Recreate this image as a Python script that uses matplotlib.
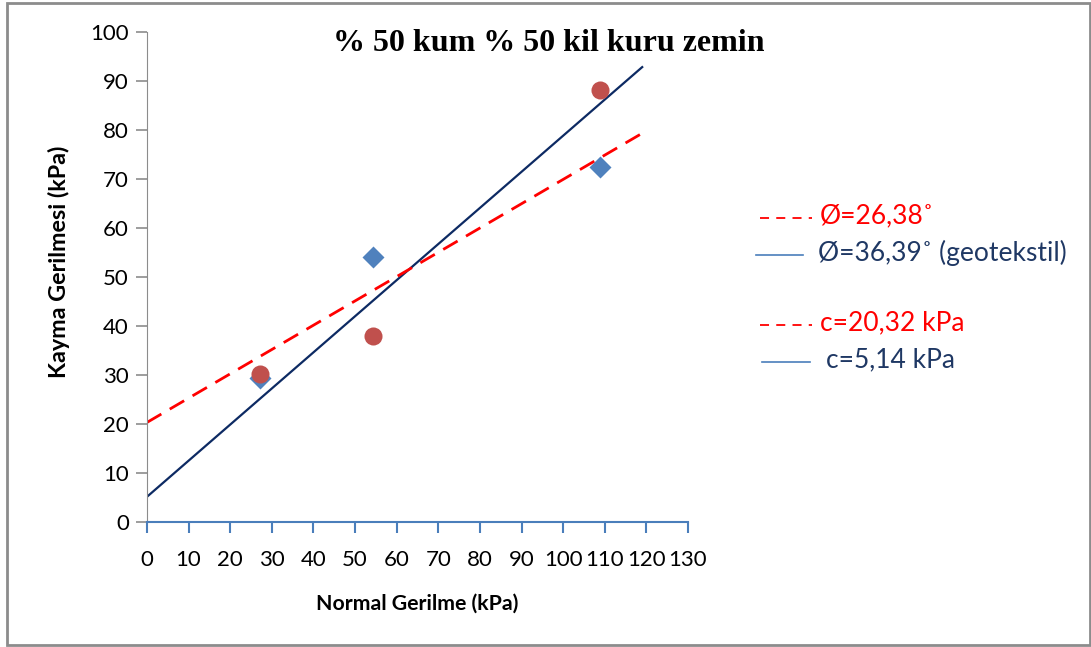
import numpy as np
import matplotlib.pyplot as plt
from matplotlib.patches import Rectangle

# normal stress (kPa)
normal = [27.2, 54.4, 108.8]
# shear stress (kPa)
shear_geo = [29.4, 54.1, 72.4]     # blue diamonds
shear_soil = [30.2, 38.0, 88.2]    # red circles

# fitted strength parameters
phi_soil, c_soil = 26.38, 20.32
phi_geo, c_geo = 36.39, 5.14
x_fit_end = 119.0

legend_texts = ["Ø=26,38˚", "Ø=36,39˚ (geotekstil)", "c=20,32 kPa", "c=5,14 kPa"]

FONT = ["Lato", "DejaVu Sans"]


def main():
    fig = plt.figure(figsize=(10.91, 6.47), dpi=100)
    ax = fig.add_axes([0.1347, 0.1932, 0.4959, 0.7573])

    xf = np.array([0.0, x_fit_end])
    ax.plot(xf, c_geo + np.tan(np.radians(phi_geo)) * xf, "-", color="#0d2a63", lw=1.6, zorder=2)
    ax.plot(xf, c_soil + np.tan(np.radians(phi_soil)) * xf, "--", color="#ff0000", lw=2.0,
            dashes=(6, 3.5), zorder=2)
    ax.plot(normal, shear_geo, "D", color="#4f81bd", ms=11, mec="none", zorder=3)
    ax.plot(normal, shear_soil, "o", color="#c0504d", ms=13, mec="none", zorder=4)

    ax.set_xlim(0, 130)
    ax.set_ylim(0, 100)
    ax.set_xticks(np.arange(0, 131, 10))
    ax.set_yticks(np.arange(0, 101, 10))
    for s in ["top", "right"]:
        ax.spines[s].set_visible(False)
    ax.spines["left"].set_color("#8c8c8c")
    ax.spines["bottom"].set_color("#4a7ebb")
    ax.spines["bottom"].set_linewidth(1.5)
    ax.tick_params(axis="y", direction="out", length=8, color="#8c8c8c", width=1.2, pad=5)
    ax.tick_params(axis="x", direction="out", length=8, color="#4a7ebb", width=1.5, pad=12)
    for lab in ax.get_xticklabels() + ax.get_yticklabels():
        lab.set_family(FONT)
        lab.set_fontsize(16)

    ax.set_xlabel("Normal Gerilme (kPa)", family=FONT, fontsize=15.3, fontweight="bold", labelpad=17)
    ax.set_ylabel("Kayma Gerilmesi (kPa)", family=FONT, fontsize=16.8, fontweight="bold")
    ax.yaxis.set_label_coords(-0.142, 0.531)

    fig.text(0.503, 0.933, "% 50 kum % 50 kil kuru zemin", family="Liberation Serif",
             fontsize=23, fontweight="bold", ha="center", va="center")

    # manual legend on the right
    fig.lines.append(plt.Line2D([760 / 1091, 812 / 1091], [1 - 218 / 647] * 2, transform=fig.transFigure,
                                color="#ff0000", lw=1.3, ls=(0, (5, 4))))
    fig.lines.append(plt.Line2D([756 / 1091, 803 / 1091], [1 - 255 / 647] * 2, transform=fig.transFigure,
                                color="#4a7ebb", lw=1.2))
    fig.lines.append(plt.Line2D([760 / 1091, 812 / 1091], [1 - 325 / 647] * 2, transform=fig.transFigure,
                                color="#ff0000", lw=1.3, ls=(0, (5, 4))))
    fig.lines.append(plt.Line2D([762 / 1091, 810 / 1091], [1 - 362 / 647] * 2, transform=fig.transFigure,
                                color="#4a7ebb", lw=1.2))
    text_pos = [(820, 216), (818, 253), (820, 323), (826, 360)]
    text_col = ["#ff0000", "#1f3864", "#ff0000", "#1f3864"]
    for (px, py), t, col in zip(text_pos, legend_texts, text_col):
        fig.text(px / 1091, 1 - py / 647, t, family=FONT, fontsize=19, color=col, ha="left", va="center")

    # outer chart frame
    fig.patches.append(Rectangle((7 / 1091, 2 / 647), 1083 / 1091, 642 / 647, transform=fig.transFigure,
                                 fill=False, ec="#8c8c8c", lw=2))

    fig.savefig("out.png", dpi=100)


if __name__ == "__main__":
    main()
